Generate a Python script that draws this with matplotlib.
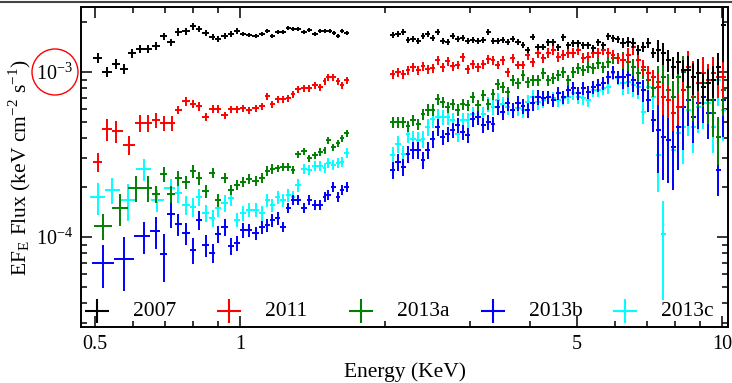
import numpy as np
import matplotlib.pyplot as plt
from matplotlib.lines import Line2D
from matplotlib.patches import Ellipse
from matplotlib.ticker import NullFormatter

plt.rcParams['font.family'] = ['Liberation Serif', 'DejaVu Serif']
plt.rcParams['mathtext.fontset'] = 'stix'

# fluxes in units of 1e-4 keV cm^-2 s^-1, errors in percent
# ---- soft band (0.5 - 1.7 keV)
e07_lo = [0.507, 0.530, 0.553, 0.574, 0.597, 0.620, 0.644, 0.669, 0.695, 0.719,
          0.744, 0.773, 0.799, 0.822, 0.850, 0.879, 0.900, 0.931, 0.958, 0.986,
          1.014, 1.044, 1.079, 1.111, 1.138, 1.165, 1.199, 1.228, 1.258, 1.288,
          1.319, 1.358, 1.391, 1.431, 1.466, 1.501, 1.537, 1.567, 1.597, 1.628, 1.667]
f07_lo = [12.2, 10.0, 11.2, 10.4, 13.0, 13.8, 13.8, 14.4, 16.5, 15.2,
          17.5, 17.7, 19.0, 18.2, 17.2, 16.3, 15.9, 16.5, 17.0, 17.7,
          17.0, 16.8, 16.5, 17.0, 17.7, 16.5, 17.5, 17.5, 18.5, 18.2,
          18.2, 17.5, 18.0, 17.0, 17.7, 17.7, 17.7, 17.2, 16.5, 17.7, 17.2]
r07_lo = [7] * 4 + [6] * 4 + [5] * 5 + [4] * 7 + [3] * 21

e11_lo = [0.507, 0.530, 0.553, 0.589, 0.620, 0.644, 0.669, 0.695, 0.723, 0.744,
          0.773, 0.799, 0.822, 0.850, 0.879, 0.900, 0.931, 0.958, 0.986, 1.014,
          1.044, 1.079, 1.111, 1.138, 1.165, 1.199, 1.228, 1.258, 1.288, 1.319,
          1.358, 1.391, 1.431, 1.466, 1.501, 1.522, 1.560, 1.597, 1.628, 1.667]
f11_lo = [2.85, 4.51, 4.39, 3.61, 4.91, 4.91, 5.12, 4.91, 4.91, 5.89,
          6.67, 6.40, 6.22, 5.34, 5.97, 5.97, 5.49, 5.97, 5.97, 6.05,
          5.89, 6.05, 6.22, 7.15, 6.40, 6.86, 6.86, 6.96, 7.36, 7.89,
          8.00, 8.00, 8.34, 8.11, 8.82, 9.33, 9.33, 8.82, 8.34, 8.94]
r11_lo = [13, 15, 15, 13, 12, 12, 10, 10, 10] + [6] * 7 + [5] * 24

e13a_lo = [0.520, 0.564, 0.608, 0.644, 0.669, 0.695, 0.719, 0.744, 0.773, 0.799,
           0.822, 0.850, 0.879, 0.900, 0.931, 0.958, 0.986, 1.014, 1.044, 1.079,
           1.111, 1.138, 1.165, 1.199, 1.228, 1.258, 1.288, 1.319, 1.358, 1.391,
           1.431, 1.466, 1.501, 1.522, 1.560, 1.597, 1.628, 1.667]
f13a_lo = [1.17, 1.50, 1.98, 1.98, 1.82, 2.41, 1.82, 2.28, 2.15, 2.51,
           2.28, 1.90, 2.46, 1.68, 2.28, 1.93, 2.07, 2.15, 2.25, 2.19,
           2.28, 2.51, 2.58, 2.62, 2.66, 2.66, 2.55, 3.18, 3.32, 3.01,
           3.14, 3.28, 3.37, 3.87, 3.51, 3.71, 3.98, 4.27]
r13a_lo = [18, 22, 18, 18, 12, 10, 12, 10, 9, 9, 9, 9, 7, 9, 7] + [7] * 8 + [5] * 15

e13b_lo = [0.520, 0.574, 0.633, 0.669, 0.695, 0.719, 0.744, 0.773, 0.799, 0.822,
           0.850, 0.879, 0.900, 0.931, 0.958, 0.986, 1.014, 1.044, 1.079, 1.111,
           1.138, 1.165, 1.199, 1.228, 1.258, 1.288, 1.319, 1.358, 1.391, 1.431,
           1.466, 1.501, 1.522, 1.560, 1.597, 1.628, 1.667]
f13b_lo = [0.696, 0.736, 1.014, 1.087, 0.789, 1.379, 1.199, 1.057, 0.834, 1.268,
           0.894, 0.800, 1.043, 1.150, 0.882, 0.920, 1.102, 1.102, 1.057, 1.150,
           1.182, 1.268, 1.304, 1.150, 1.499, 1.676, 1.676, 1.499, 1.676, 1.563,
           1.563, 1.747, 1.797, 2.009, 1.747, 1.927, 2.009]
r13b_lo = [29, 36, 22, 22, 32, 18, 15, 15, 18, 13, 15, 13, 12, 12, 12, 10, 10] + [9] * 6 + [7] * 14

e13c_lo = [0.507, 0.543, 0.586, 0.633, 0.673, 0.719, 0.744, 0.773, 0.799, 0.822,
           0.850, 0.879, 0.900, 0.931, 0.958, 0.986, 1.014, 1.044, 1.079, 1.111,
           1.138, 1.165, 1.199, 1.228, 1.258, 1.288, 1.319, 1.358, 1.391, 1.431,
           1.466, 1.501, 1.522, 1.560, 1.597, 1.628, 1.667]
f13c_lo = [1.75, 1.93, 1.68, 2.58, 1.68, 1.98, 1.85, 1.56, 1.52, 1.75,
           1.40, 1.30, 1.50, 1.61, 1.72, 1.27, 1.40, 1.46, 1.46, 1.40,
           1.68, 1.56, 1.75, 1.68, 1.80, 1.75, 2.07, 2.58, 2.55, 2.69,
           2.69, 2.62, 2.81, 2.73, 2.81, 2.85, 3.23]
r13c_lo = [22, 18, 25, 15, 15, 13, 13, 13, 13, 12, 12, 12, 12, 12, 10, 10, 10, 10, 10, 10] + [9] * 7 + [7] * 10

# ---- hard band (2 - 10 keV), common energy grid
e_hi = [2.077, 2.127, 2.179, 2.231, 2.285, 2.341, 2.397, 2.455, 2.514, 2.575,
        2.637, 2.701, 2.766, 2.833, 2.901, 2.972, 3.043, 3.117, 3.193, 3.270,
        3.349, 3.429, 3.513, 3.597, 3.684, 3.774, 3.865, 3.958, 4.054, 4.152,
        4.253, 4.355, 4.461, 4.569, 4.679, 4.792, 4.908, 5.026, 5.148, 5.272,
        5.400, 5.530, 5.664, 5.801, 5.941, 6.084, 6.232, 6.383, 6.537, 6.695,
        6.857, 7.023, 7.192, 7.366, 7.544, 7.727, 7.913, 8.105, 8.301, 8.502,
        8.707, 8.918, 9.133, 9.354, 9.579, 9.811, 10.05]
f07_hi = [16.75, 16.99, 17.47, 15.63, 15.85, 15.41, 16.53, 16.99, 16.07, 17.47,
          15.41, 15.20, 16.53, 15.85, 16.07, 15.41, 15.63, 15.41, 15.63, 17.47,
          15.41, 15.41, 15.63, 15.20, 15.85, 15.20, 14.58, 13.59, 16.30, 14.17,
          14.17, 15.20, 15.20, 14.17, 16.30, 14.58, 14.99, 14.99, 14.58, 14.58,
          13.98, 15.20, 14.58, 16.53, 16.07, 15.85, 14.99, 15.20, 14.99, 13.59,
          14.17, 14.99, 13.03, 13.59, 13.03, 11.82, 10.72, 11.50, 10.28, 10.28,
          9.33, 9.86, 8.11, 8.58, 8.94, 10.72, 19.3]
r07_hi = [4] * 31 + [5] * 15 + [7] * 7 + [15] * 6 + [22] * 7 + [40]

f11_hi = [9.72, 10.0, 9.72, 10.28, 10.72, 10.28, 10.87, 10.43, 10.57, 11.82,
          10.72, 11.66, 10.87, 11.03, 12.33, 10.43, 11.18, 10.72, 11.18, 11.99,
          11.82, 11.03, 11.82, 10.0, 12.16, 11.03, 11.03, 12.68, 11.50, 13.03,
          12.16, 13.03, 13.59, 12.33, 12.68, 13.03, 13.03, 13.59, 12.16, 12.33,
          13.03, 13.03, 13.59, 13.03, 12.68, 12.16, 11.82, 12.68, 14.17, 11.82,
          10.72, 9.86, 9.33, 8.11, 7.05, 6.77, 5.64, 6.14, 7.78, 10.72,
          9.33, 8.58, 9.86, 8.94, 9.86, 9.33, 9.33]
r11_hi = [6] * 31 + [7] * 15 + [10] * 7 + [22] * 6 + [25] * 7 + [25]

f13a_hi = [4.98, 4.98, 4.98, 4.71, 5.12, 4.84, 5.56, 5.89, 5.89, 6.86,
           6.58, 6.14, 6.40, 5.89, 6.40, 6.31, 7.05, 6.31, 7.25, 6.40,
           7.36, 8.46, 8.11, 7.57, 8.94, 8.58, 9.59, 8.70, 8.94, 8.94,
           9.86, 8.94, 9.20, 9.59, 10.0, 8.94, 10.0, 10.57, 10.28, 10.72,
           10.57, 11.34, 10.72, 11.50, 12.16, 12.16, 11.82, 11.50, 10.72, 9.86,
           10.28, 8.94, 8.00, 8.70, 9.33, 7.78, 7.05, 9.33, 10.0, 8.11,
           7.05, 8.58, 8.58, 6.77, 5.64, 4.04, 7.78]
r13a_hi = [8] * 46 + [12] * 7 + [25] * 6 + [28] * 6 + [32] + [30]

f13b_hi = [2.55, 2.85, 2.66, 3.18, 3.37, 3.37, 2.93, 3.37, 3.93, 4.64,
           4.04, 4.21, 4.45, 4.77, 4.33, 4.15, 5.19, 5.34, 4.77, 4.98,
           4.84, 6.14, 5.72, 6.49, 5.89, 6.49, 6.22, 5.89, 6.49, 7.05,
           6.96, 7.05, 6.77, 7.46, 7.05, 7.78, 8.00, 7.46, 8.00, 7.57,
           8.11, 8.34, 8.58, 9.33, 10.0, 9.33, 9.33, 9.59, 8.94, 8.58,
           7.78, 6.77, 5.12, 4.45, 4.04, 3.87, 3.51, 4.64, 6.14, 6.77,
           5.34, 6.49, 7.05, 5.64, 6.77, 2.55, 6.77]
r13b_hi = [12] * 10 + [10] * 21 + [9] * 15 + [15] * 7 + [45] * 6 + [30] * 7 + [40]

f13c_hi = [3.14, 3.66, 3.18, 4.21, 3.93, 3.87, 3.93, 4.64, 5.19, 5.34,
           5.34, 5.34, 5.12, 4.21, 5.12, 5.12, 5.56, 5.34, 5.56, 6.40,
           6.14, 6.77, 6.40, 6.14, 5.89, 6.05, 5.89, 6.58, 7.05, 6.58,
           6.77, 7.05, 6.96, 6.77, 6.96, 7.05, 7.46, 7.05, 6.96, 6.77,
           7.78, 7.78, 8.00, 8.11, 9.86, 9.20, 8.58, 8.70, 8.34, 8.11,
           5.72, 8.11, 7.05, 3.14, 1.04, 3.87, 3.37, 4.27, 4.64, 5.89,
           4.64, 6.14, 6.49, 6.49, 4.64, 8.94, 5.89]
r13c_hi = [12] * 10 + [10] * 21 + [9] * 15 + [15] * 7 + [40, 60, 40, 40, 40, 40] + [30] * 7 + [35]

labels = ['2007', '2011', '2013a', '2013b', '2013c']
colors = ['black', 'red', 'green', 'blue', 'cyan']


def half_bins(e):
    e = np.asarray(e)
    d = np.diff(e) / 2
    return np.vstack([np.r_[d[0], d], np.r_[d, d[-1]]])


series = [
    (e07_lo, f07_lo, r07_lo, f07_hi, r07_hi),
    (e11_lo, f11_lo, r11_lo, f11_hi, r11_hi),
    (e13a_lo, f13a_lo, r13a_lo, f13a_hi, r13a_hi),
    (e13b_lo, f13b_lo, r13b_lo, f13b_hi, r13b_hi),
    (e13c_lo, f13c_lo, r13c_lo, f13c_hi, r13c_hi),
]

fig = plt.figure(figsize=(7.32, 3.83), dpi=100)
ax = fig.add_axes([0.1107, 0.1462, 0.8838, 0.8355])

# draw back to front so 2007 ends up on top
for i in reversed(range(5)):
    elo, flo, rlo, fhi, rhi = series[i]
    for e, f, r in ((elo, flo, rlo), (e_hi, fhi, rhi)):
        f = np.array(f) * 1e-4
        ax.errorbar(e, f, xerr=half_bins(e), yerr=f * np.array(r) / 100,
                    fmt='none', ecolor=colors[i], elinewidth=1.4, capsize=0)

ax.set_xscale('log')
ax.set_yscale('log')
ax.set_xlim(0.468, 10.29)
ax.set_ylim(2.85e-5, 2.48e-3)

ax.set_xticks([0.5, 1, 5, 10])
ax.set_xticklabels(['0.5', '1', '5', '10'])
ax.set_xticks([0.6, 0.7, 0.8, 0.9, 2, 3, 4, 6, 7, 8, 9], minor=True)
ax.xaxis.set_minor_formatter(NullFormatter())
ax.yaxis.set_minor_formatter(NullFormatter())
ax.tick_params(which='both', direction='in', top=True, right=True, labelsize=14.5, width=1.1)
ax.tick_params(which='major', length=8, pad=6)
ax.tick_params(which='minor', length=4)
for s in ax.spines.values():
    s.set_linewidth(1.4)

ax.set_xlabel('Energy (KeV)', fontsize=15.5, labelpad=6)
ax.set_ylabel(r'EF$_{\mathdefault{E}}$ Flux (keV cm$^{\mathdefault{-2}}$ s$^{\mathdefault{-1}}$)',
              fontsize=15.5, labelpad=2)

# legend row with evenly spaced entries, as in the original
for i, (c, lab) in enumerate(zip(colors, labels)):
    x0 = 0.0247 + i * 0.204
    ax.plot([x0], [0.05], marker='+', color=c, markersize=17, mew=1.5,
            linestyle='None', transform=ax.transAxes, clip_on=False)
    ax.text(x0 + 0.056, 0.05, lab, color='black', fontsize=15.5,
            transform=ax.transAxes, va='center', ha='left')

# red circle marking the 10^-3 label
fig.add_artist(Ellipse((55 / 732, 1 - 72 / 383), 46 / 732, 46 / 383,
                       transform=fig.transFigure, fill=False, ec='red', lw=1))
fig.add_artist(Line2D([0, 1], [1 - 1.5 / 383] * 2, color='#444444', lw=1.5))

fig.savefig('out.png', dpi=100)
